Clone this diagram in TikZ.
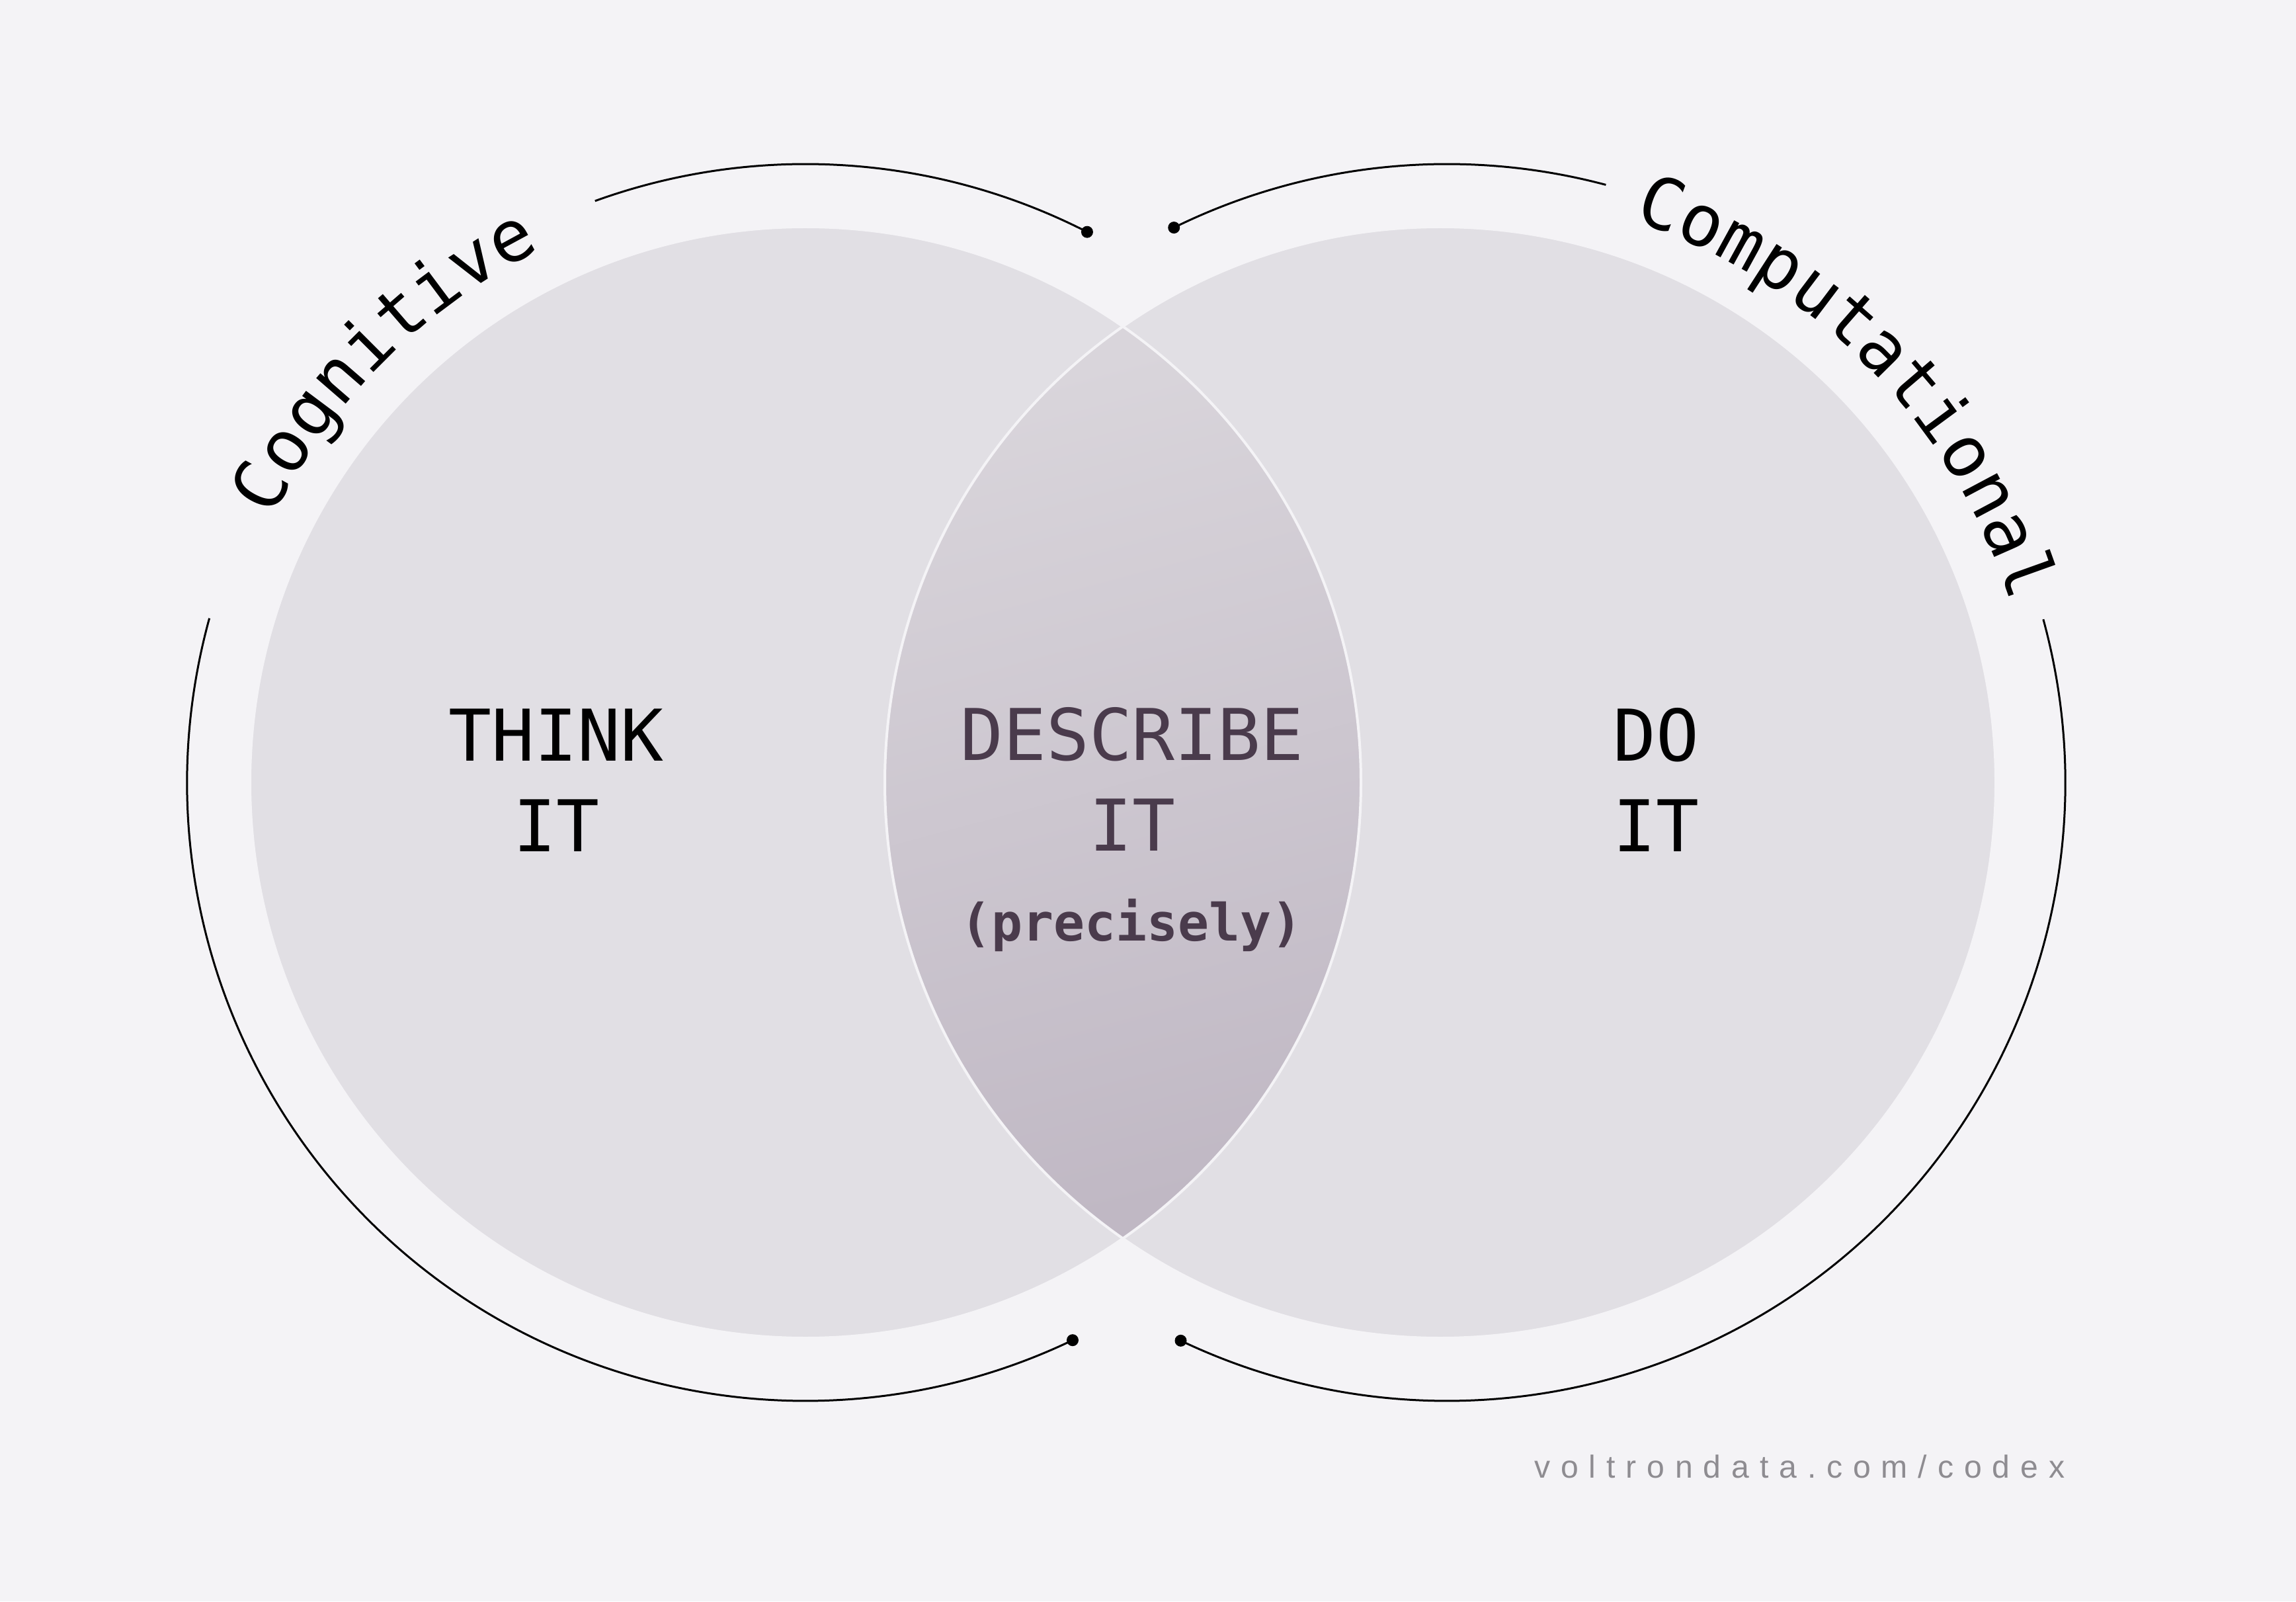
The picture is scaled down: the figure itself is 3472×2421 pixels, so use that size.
\documentclass[tikz,border=0pt]{standalone}
\usepackage{fontspec}
\setmainfont{Liberation Sans}
\setmonofont{DejaVu Sans Mono}
\newfontfamily\urlfont[LetterSpace=33]{Liberation Sans}
\usepackage{tikz}
\usetikzlibrary{decorations.text}
\definecolor{mybg}{RGB}{244,243,246}
\definecolor{mycircle}{RGB}{225,223,228}
\definecolor{mylenstop}{RGB}{217,213,219}
\definecolor{mylensbottom}{RGB}{192,184,196}
\definecolor{mydarkpurple}{RGB}{74,59,76}
\definecolor{mygray}{RGB}{142,140,145}
\newcommand{\radiuscircle}{840}
\newcommand{\radiusring}{935}
\newcommand{\bigmono}{\ttfamily\fontsize{30.7}{38.7}\selectfont}
\newcommand{\smallmono}{\ttfamily\bfseries\fontsize{22.2}{28}\selectfont}
\newcommand{\urlsize}{\urlfont\fontsize{13.7}{16}\selectfont}
\tikzset{
    blob/.style={fill=mycircle},
    rim/.style={draw=mybg, line width=0.4mm},
    lens/.style={top color=mylenstop, bottom color=mylensbottom, shading angle=15},
    ring/.style={line width=0.3mm},
    dot/.style={circle, fill=black, inner sep=0pt, minimum size=1.8mm},
    word/.style={anchor=base, align=center, inner sep=0pt, font=\bigmono},
    arcword/.style={decorate, decoration={text along path, text align=center, text={|\bigmono|#1}}}
}
\begin{document}
\begin{tikzpicture}[x=0.1mm, y=0.1mm]
    \useasboundingbox[fill=mybg] (0,0) rectangle (3472,2421);
    \coordinate (cog) at (1218,1238);
    \coordinate (comp) at (2178,1238);
    \coordinate (comp-ring) at (2188,1238);

    \fill[blob] (cog) circle[radius=\radiuscircle];
    \fill[blob] (comp) circle[radius=\radiuscircle];
    \begin{scope}
        \clip (cog) circle[radius=\radiuscircle];
        \clip (comp) circle[radius=\radiuscircle];
        \shade[lens] (1330,540) rectangle (2070,1935);
    \end{scope}
    \draw[rim] (cog) circle[radius=\radiuscircle];
    \draw[rim] (comp) circle[radius=\radiuscircle];

    \draw[ring] (cog) ++(62.9:\radiusring) node[dot] (cog-dot-top) {}
        arc[start angle=62.9, end angle=109.9, radius=\radiusring];
    \draw[ring] (cog) ++(164.6:\radiusring)
        arc[start angle=164.6, end angle=295.6, radius=\radiusring] node[dot] (cog-dot-bottom) {};
    \draw[ring] (comp-ring) ++(116.2:\radiusring) node[dot] (comp-dot-top) {}
        arc[start angle=116.2, end angle=75.1, radius=\radiusring];
    \draw[ring] (comp-ring) ++(15.3:\radiusring)
        arc[start angle=15.3, end angle=-115.5, radius=\radiusring] node[dot] (comp-dot-bottom) {};

    \path[arcword=Cognitive] (cog) ++(170:900) arc[start angle=170, end angle=100, radius=900];
    \path[arcword=Computational] (comp-ring) ++(80:895) arc[start angle=80, end angle=9.3, radius=895];

    \node[word] (think) at (841,1134) {THINK\\IT};
    \node[word, text=mydarkpurple] (describe) at (1712,1135) {DESCRIBE\\IT};
    \node[word, font=\smallmono, text=mydarkpurple] (precisely) at (1711,999) {(precisely)};
    \node[word] (do) at (2504,1134) {DO\\IT};

    \node[anchor=base east, inner sep=0pt, font=\urlsize, text=mygray] (url) at (3123,187) {voltrondata.com/codex};
\end{tikzpicture}
\end{document}
